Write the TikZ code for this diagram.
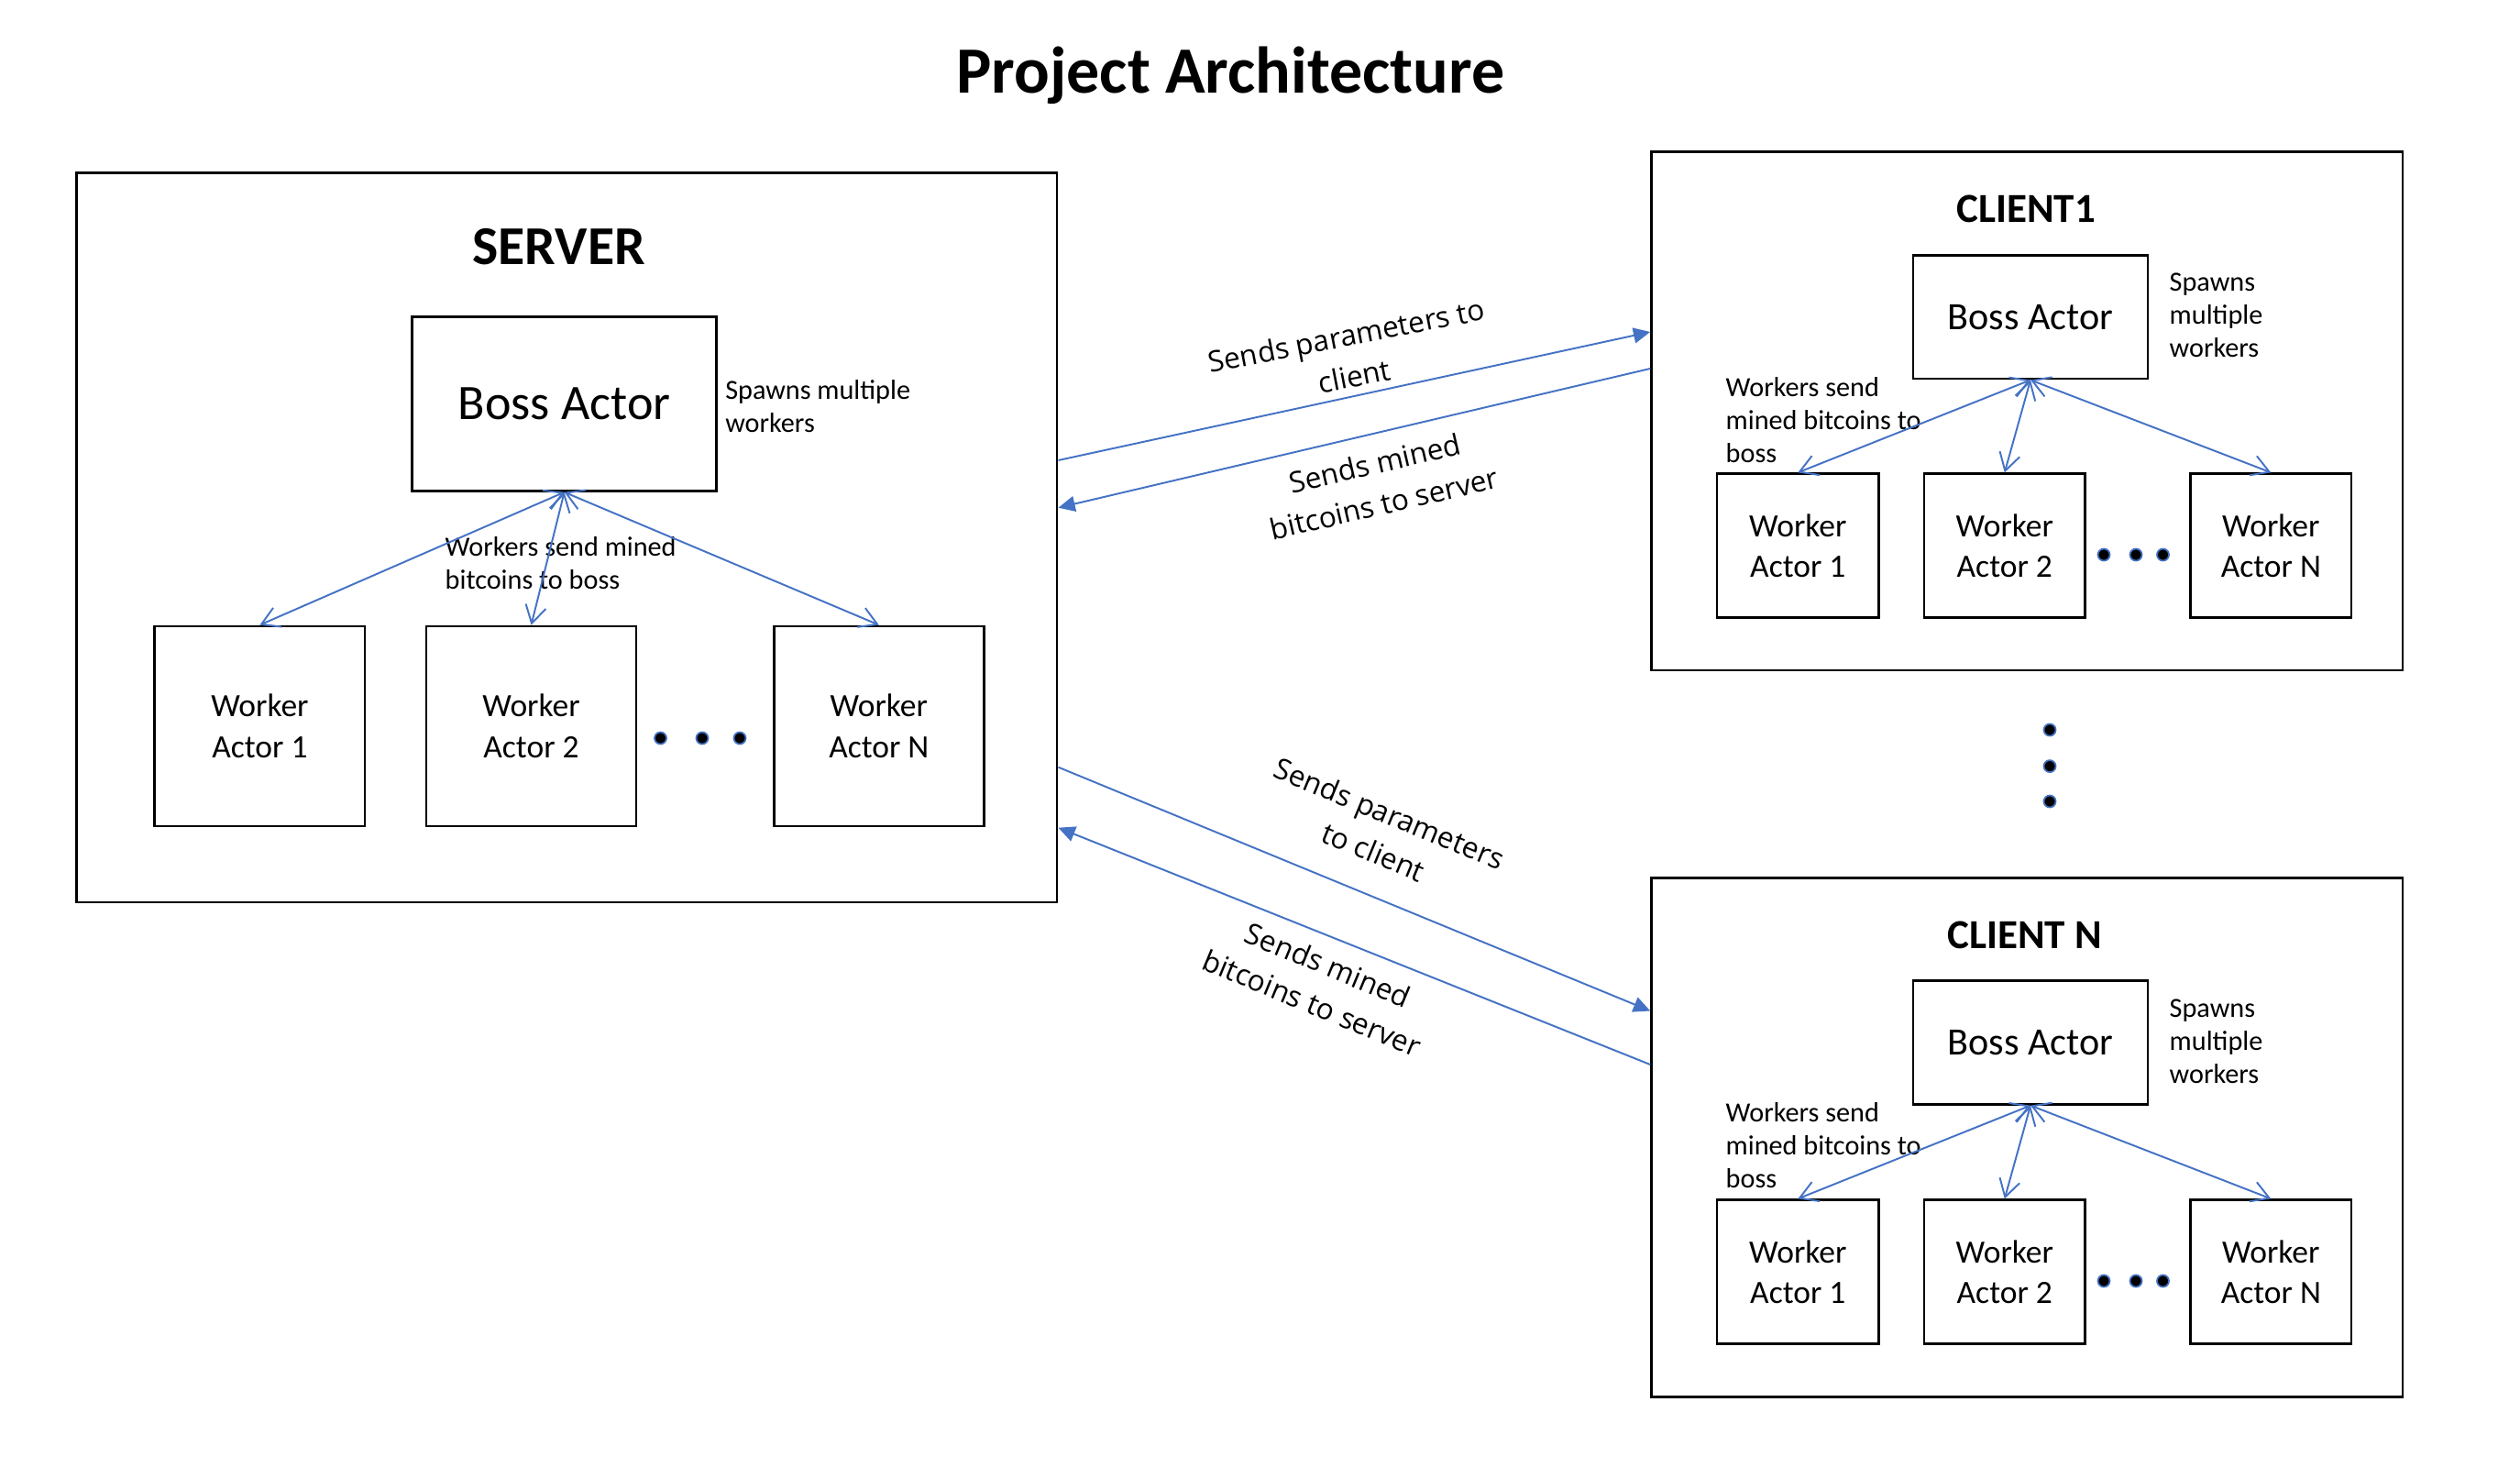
\documentclass[tikz,border=0pt]{standalone}
\usepackage{fontspec}
\setmainfont{Carlito}
\newfontfamily\arrowfont{Open Sans}
\usetikzlibrary{arrows.meta}

\definecolor{linkblue}{HTML}{4472C4}

\tikzset{
  frame/.style={draw=black,line width=0.8pt,inner sep=0pt},
  boxtitle/.style={font=\bfseries\fontsize{#1}{#1}\selectfont,inner sep=0pt},
  actorbox/.style={draw=black,line width=0.8pt,align=center,inner sep=0pt},
  note/.style={align=left,anchor=west,inner sep=0pt,font=\fontsize{8.6}{10.3}\selectfont},
  msg/.style={align=center,inner sep=0pt,font=\arrowfont\fontsize{9}{12.8}\selectfont},
  link/.style={linkblue,line width=0.55pt,-{Triangle[length=5.2pt,width=4.8pt]}},
  spawn/.style={linkblue,line width=0.55pt,{Straight Barb[length=5.4pt,width=6.4pt]}-{Straight Barb[length=5.4pt,width=6.4pt]}},
  gap/.style={circle,fill=black,draw=linkblue,line width=0.5pt,inner sep=0pt,minimum size=0.13cm}
}

\begin{document}
\begin{tikzpicture}
  \useasboundingbox (0,0) rectangle (27.49,-15.88);
  \node[boxtitle=20.5,anchor=base] (title) at (13.425,-1.017) {Project Architecture};

  % server
  \node[frame,minimum width=10.695cm,minimum height=7.952cm] (server) at (6.183,-5.864) {};
  \node[boxtitle=17] (servername) at (6.097,-2.69) {SERVER};
  \node[actorbox,minimum width=3.318cm,minimum height=1.897cm,font=\fontsize{15.4}{18}\selectfont] (sboss) at (6.156,-4.405) {Boss Actor};
  \node[actorbox,minimum width=2.29cm,minimum height=2.18cm,font=\fontsize{10.1}{12.7}\selectfont] (sw1) at (2.834,-7.92) {Worker\\Actor 1};
  \node[actorbox,minimum width=2.29cm,minimum height=2.18cm,font=\fontsize{10.1}{12.7}\selectfont] (sw2) at (5.795,-7.92) {Worker\\Actor 2};
  \node[actorbox,minimum width=2.29cm,minimum height=2.18cm,font=\fontsize{10.1}{12.7}\selectfont] (swn) at (9.588,-7.92) {Worker\\Actor N};
  \node[gap] (sdot1) at (7.205,-8.05) {};
  \node[gap] (sdot2) at (7.66,-8.05) {};
  \node[gap] (sdot3) at (8.07,-8.05) {};
  \node[note] (sspawn) at (7.906,-4.43) {Spawns multiple\\workers};
  \node[note] (ssend) at (4.85,-6.14) {Workers send mined\\bitcoins to boss};
  \draw[spawn] (sboss.south) -- (sw1.north);
  \draw[spawn] (sboss.south) -- (sw2.north);
  \draw[spawn] (sboss.south) -- (swn.north);

  % client 1
  \node[frame,minimum width=8.194cm,minimum height=5.654cm] (client1) at (22.113,-4.483) {};
  \node[boxtitle=12.8] (client1name) at (22.10,-2.28) {CLIENT1};
  \node[actorbox,minimum width=2.56cm,minimum height=1.345cm,font=\fontsize{12}{14}\selectfont] (aboss) at (22.15,-3.4575) {Boss Actor};
  \node[actorbox,minimum width=1.766cm,minimum height=1.569cm,font=\fontsize{10.1}{12.5}\selectfont] (aw1) at (19.613,-5.952) {Worker\\Actor 1};
  \node[actorbox,minimum width=1.755cm,minimum height=1.569cm,font=\fontsize{10.1}{12.5}\selectfont] (aw2) at (21.8675,-5.952) {Worker\\Actor 2};
  \node[actorbox,minimum width=1.754cm,minimum height=1.569cm,font=\fontsize{10.1}{12.5}\selectfont] (awn) at (24.773,-5.952) {Worker\\Actor N};
  \node[gap] (adot1) at (22.95,-6.05) {};
  \node[gap] (adot2) at (23.30,-6.05) {};
  \node[gap] (adot3) at (23.595,-6.05) {};
  \node[note] (aspawn) at (23.66,-3.44) {Spawns\\multiple\\workers};
  \node[note] (asend) at (18.82,-4.58) {Workers send\\mined bitcoins to\\boss};
  \draw[spawn] (aboss.south) -- (aw1.north);
  \draw[spawn] (aboss.south) -- (aw2.north);
  \draw[spawn] (aboss.south) -- (awn.north);

  % more clients
  \node[gap] (vdot1) at (22.36,-7.96) {};
  \node[gap] (vdot2) at (22.36,-8.356) {};
  \node[gap] (vdot3) at (22.36,-8.74) {};

  % client N
  \node[frame,minimum width=8.194cm,minimum height=5.66cm] (clientn) at (22.113,-12.405) {};
  \node[boxtitle=12.8] (clientnname) at (22.086,-10.196) {CLIENT N};
  \node[actorbox,minimum width=2.56cm,minimum height=1.345cm,font=\fontsize{12}{14}\selectfont] (nboss) at (22.15,-11.37) {Boss Actor};
  \node[actorbox,minimum width=1.766cm,minimum height=1.569cm,font=\fontsize{10.1}{12.5}\selectfont] (nw1) at (19.613,-13.872) {Worker\\Actor 1};
  \node[actorbox,minimum width=1.755cm,minimum height=1.569cm,font=\fontsize{10.1}{12.5}\selectfont] (nw2) at (21.8675,-13.872) {Worker\\Actor 2};
  \node[actorbox,minimum width=1.754cm,minimum height=1.569cm,font=\fontsize{10.1}{12.5}\selectfont] (nwn) at (24.773,-13.872) {Worker\\Actor N};
  \node[gap] (ndot1) at (22.95,-13.97) {};
  \node[gap] (ndot2) at (23.30,-13.97) {};
  \node[gap] (ndot3) at (23.595,-13.97) {};
  \node[note] (nspawn) at (23.66,-11.36) {Spawns\\multiple\\workers};
  \node[note] (nsend) at (18.82,-12.49) {Workers send\\mined bitcoins to\\boss};
  \draw[spawn] (nboss.south) -- (nw1.north);
  \draw[spawn] (nboss.south) -- (nw2.north);
  \draw[spawn] (nboss.south) -- (nwn.north);

  % messages between server and clients
  \draw[link] ([yshift=8.44mm]server.east) -- ([yshift=8.63mm]client1.west);
  \draw[link] ([yshift=4.63mm]client1.west) -- ([yshift=3.27mm]server.east);
  \draw[link] ([yshift=-25.03mm]server.east) -- ([yshift=13.8mm]clientn.west);
  \draw[link] ([yshift=7.95mm]clientn.west) -- ([yshift=-31.63mm]server.east);
  \node[msg,rotate=11] (params1) at (14.73,-3.88) {Sends parameters to\\client};
  \node[msg,rotate=13] (mined1) at (15.05,-5.27) {Sends mined\\bitcoins to server};
  \node[msg,rotate=-22.5] (paramsn) at (15.07,-9.08) {Sends parameters\\to client};
  \node[msg,rotate=-22.5] (minedn) at (14.40,-10.73) {Sends mined\\bitcoins to server};
\end{tikzpicture}
\end{document}
